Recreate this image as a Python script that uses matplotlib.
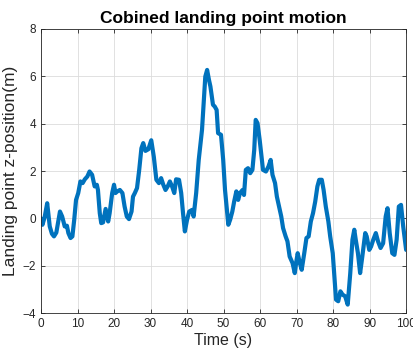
import matplotlib
matplotlib.use("Agg")
import matplotlib.pyplot as plt

plt.rcParams["font.family"] = ["Liberation Sans", "DejaVu Sans"]

# Landing point z-position over time
time_s = [0.0, 0.4, 1.0, 1.7, 2.4, 3.0, 3.56, 4.2, 5.2, 5.8, 6.5, 7.1, 7.5, 8.1, 8.6, 9.1, 9.6,
          10.2, 10.8, 11.4, 12.0, 12.7, 13.3, 14.0, 14.7, 15.3, 15.6, 16.1, 16.5, 17.0, 17.7,
          18.4, 18.8, 19.5, 20.0, 20.4, 20.9, 21.6, 22.3, 22.9, 23.5, 24.1, 24.8, 25.2, 25.7,
          26.3, 26.9, 27.5, 28.0, 28.6, 29.4, 30.2, 30.9, 31.6, 32.3, 32.9, 33.5, 34.1, 34.7,
          35.3, 35.9, 36.5, 37.0, 37.8, 38.4, 38.9, 39.4, 40.0, 40.6, 41.4, 41.8, 42.5, 43.2,
          44.1, 44.6, 45.0, 45.5, 46.0, 46.4, 47.1, 47.6, 48.1, 48.5, 49.3, 49.9, 50.4, 50.9,
          51.3, 51.8, 52.4, 52.9, 53.5, 54.0, 54.5, 55.2, 55.6, 56.1, 56.7, 57.3, 57.9, 58.4,
          58.8, 59.3, 59.9, 60.4, 60.8, 61.6, 62.3, 62.9, 63.4, 64.1, 64.6, 65.2, 65.8, 66.3,
          67.0, 67.5, 68.1, 68.9, 69.5, 70.0, 70.3, 70.9, 71.4, 72.1, 72.7, 73.3, 73.9, 74.5,
          75.1, 75.7, 76.2, 76.9, 77.4, 78.0, 78.7, 79.2, 79.9, 80.4, 80.8, 81.4, 82.0, 82.6,
          83.3, 84.0, 84.7, 85.3, 85.8, 86.2, 86.8, 87.4, 88.0, 88.8, 89.2, 89.9, 90.4, 91.0,
          91.7, 92.3, 93.0, 93.7, 94.4, 94.9, 95.5, 96.2, 96.8, 97.4, 98.0, 98.6, 99.2, 100.0]
z_pos = [0.0, -0.27, 0.05, 0.64, -0.34, -0.65, -0.76, -0.6, 0.29, 0.08, -0.34, -0.31, -0.62,
         -0.83, -0.76, -0.06, 0.78, 1.07, 1.56, 1.49, 1.65, 1.77, 1.98, 1.84, 1.35, 1.42, 1.2,
         0.22, -0.2, -0.17, 0.4, -0.13, 0.22, 1.07, 1.42, 1.07, 1.14, 1.2, 1.07, 0.5, 0.08,
         -0.03, 0.29, 0.92, 1.07, 1.28, 2.05, 2.96, 3.18, 2.85, 2.92, 3.3, 2.6, 1.63, 1.49,
         1.7, 1.42, 1.2, 1.35, 1.56, 1.35, 1.07, 1.65, 1.63, 1.07, 0.22, -0.55, -0.06, 0.29,
         0.36, 0.08, 1.07, 2.47, 3.74, 5.0, 5.99, 6.27, 5.85, 5.57, 4.8, 4.72, 4.58, 3.6,
         3.53, 2.47, 1.2, 0.36, -0.27, -0.06, 0.29, 0.71, 1.14, 0.78, 1.07, 1.2, 0.99, 2.05,
         2.12, 1.91, 2.05, 2.89, 4.16, 4.02, 3.3, 2.6, 2.05, 1.98, 2.19, 2.47, 1.84, 1.49,
         0.92, 0.5, 0.08, -0.41, -0.76, -0.97, -1.61, -1.89, -2.31, -1.75, -1.47, -1.89,
         -2.17, -1.47, -0.83, -0.76, -0.13, 0.22, 0.71, 1.35, 1.63, 1.63, 1.2, 0.5, -0.13,
         -0.76, -1.47, -2.59, -3.43, -3.5, -3.08, -3.22, -3.29, -3.64, -2.31, -0.9, -0.48,
         -0.9, -1.47, -2.31, -1.61, -0.62, -0.76, -1.33, -1.19, -0.9, -0.62, -0.97, -1.25,
         -1.05, 0.08, 0.43, -0.62, -1.47, -1.54, -0.9, 0.5, 0.57, -0.34, -1.33]

x_ticks = list(range(0, 101, 10))
y_ticks = list(range(-4, 9, 2))

fig = plt.figure(figsize=(4.14, 3.53), dpi=100)
ax = fig.add_axes([0.099, 0.113, 0.882, 0.805])

ax.plot(time_s, z_pos, color="#0072BD", linewidth=3.0, solid_joinstyle="round",
        solid_capstyle="round")

ax.set_xlim(0, 100)
ax.set_ylim(-4, 8)
ax.set_xticks(x_ticks)
ax.set_yticks(y_ticks)
ax.tick_params(direction="in", top=True, right=True, labelsize=8.5,
               colors="#262626", length=3, width=0.6)
ax.grid(True, color="#dcdcdc", linewidth=0.6)
ax.set_axisbelow(True)
for s in ax.spines.values():
    s.set_color("#262626")
    s.set_linewidth(0.6)

ax.set_title("Cobined landing point motion", fontsize=12.5, fontweight="bold", pad=4)
ax.set_xlabel("Time (s)", fontsize=11.5, color="#262626", labelpad=2)
ax.set_ylabel("Landing point z-position(m)", fontsize=12.5, color="#262626", labelpad=3)

fig.savefig("out.png", dpi=100)
